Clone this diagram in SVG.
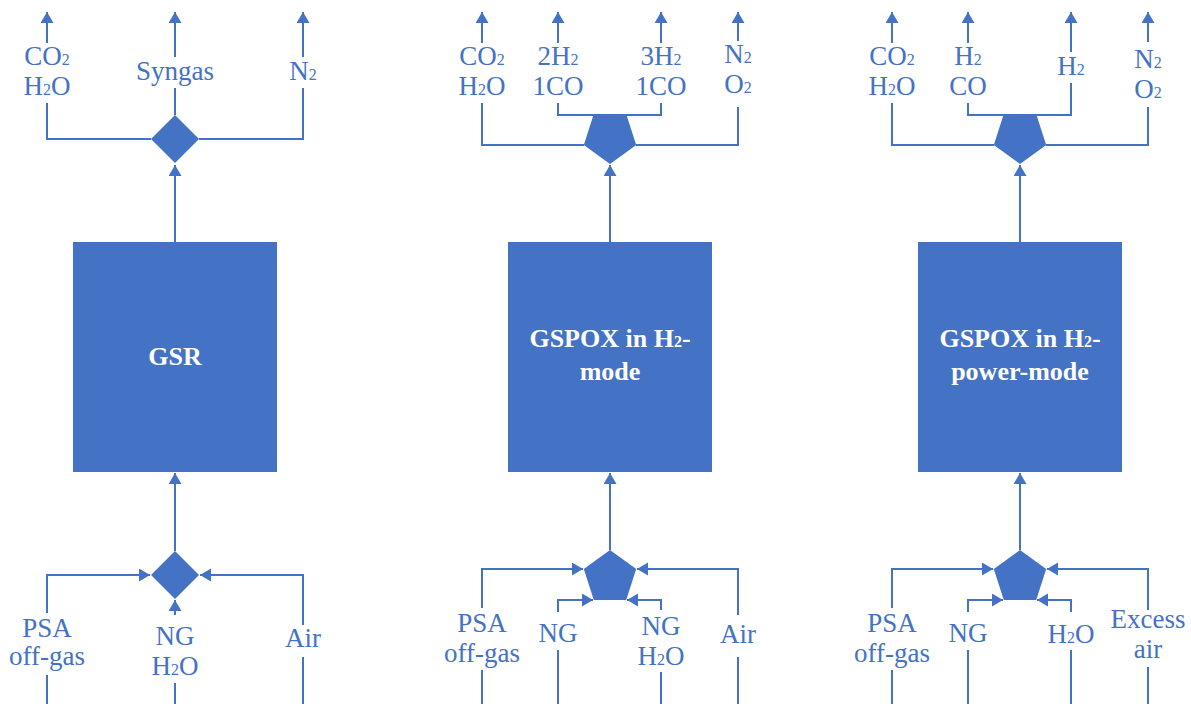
<svg xmlns="http://www.w3.org/2000/svg" width="1191" height="704" viewBox="0 0 1191 704">
<style>
.ln{fill:none;stroke:#4472C4;stroke-width:2}
.ar{fill:none;stroke:#4472C4;stroke-width:2;marker-end:url(#ah)}
.sh{fill:#4472C4;stroke:none}
.lb{font-family:"Liberation Serif","Times New Roman",serif;font-size:27px;fill:#4472C4;text-anchor:middle}
.bx{font-family:"Liberation Serif","Times New Roman",serif;font-size:26px;font-weight:bold;fill:#FFFFFF;text-anchor:middle}
.s{font-size:16px}
</style>
<defs>
<marker id="ah" markerUnits="userSpaceOnUse" markerWidth="12" markerHeight="14" refX="11" refY="6.5" orient="auto">
<path d="M0,0 L11,6.5 L0,13 Z" fill="#4472C4"/>
</marker>
</defs>
<rect width="1191" height="704" fill="#FFFFFF"/>

<g id="connectors">
<!-- panel 1 top -->
<path class="ar" d="M175,242 L175,165"/>
<path class="ln" d="M151,139 L47,139 L47,103"/>
<path class="ar" d="M47,43 L47,12"/>
<path class="ln" d="M175,115 L175,88"/>
<path class="ar" d="M175,57 L175,12"/>
<path class="ln" d="M199,139 L303,139 L303,88"/>
<path class="ar" d="M303,57 L303,12"/>
<!-- panel 1 bottom -->
<path class="ar" d="M175,551 L175,473"/>
<path class="ar" d="M47,613 L47,575 L150,575"/>
<path class="ln" d="M47,675 L47,704"/>
<path class="ar" d="M175,615 L175,600"/>
<path class="ln" d="M175,683 L175,704"/>
<path class="ar" d="M303,625 L303,575 L200,575"/>
<path class="ln" d="M303,657 L303,704"/>

<!-- panel 2 top -->
<path class="ar" d="M610,242 L610,165"/>
<path class="ln" d="M584,145 L482,145 L482,103"/>
<path class="ar" d="M482,43 L482,12"/>
<path class="ln" d="M594,115 L558,115 L558,103"/>
<path class="ar" d="M558,43 L558,12"/>
<path class="ln" d="M626,115 L661,115 L661,103"/>
<path class="ar" d="M661,43 L661,12"/>
<path class="ln" d="M636,145 L738,145 L738,107"/>
<path class="ar" d="M738,41 L738,12"/>
<!-- panel 2 bottom -->
<path class="ar" d="M610,550 L610,473"/>
<path class="ar" d="M482,608 L482,569 L583,569"/>
<path class="ln" d="M482,670 L482,704"/>
<path class="ar" d="M558,612 L558,600 L593,600"/>
<path class="ln" d="M558,650 L558,704"/>
<path class="ar" d="M661,610 L661,600 L627,600"/>
<path class="ln" d="M661,672 L661,704"/>
<path class="ar" d="M738,615 L738,569 L637,569"/>
<path class="ln" d="M738,657 L738,704"/>

<!-- panel 3 top -->
<path class="ar" d="M1020,242 L1020,165"/>
<path class="ln" d="M994,145 L892,145 L892,103"/>
<path class="ar" d="M892,43 L892,12"/>
<path class="ln" d="M1004,115 L968,115 L968,103"/>
<path class="ar" d="M968,43 L968,12"/>
<path class="ln" d="M1036,115 L1071,115 L1071,83"/>
<path class="ar" d="M1071,52 L1071,12"/>
<path class="ln" d="M1046,145 L1148,145 L1148,107"/>
<path class="ar" d="M1148,42 L1148,12"/>
<!-- panel 3 bottom -->
<path class="ar" d="M1020,550 L1020,473"/>
<path class="ar" d="M892,608 L892,569 L993,569"/>
<path class="ln" d="M892,670 L892,704"/>
<path class="ar" d="M968,612 L968,600 L1003,600"/>
<path class="ln" d="M968,650 L968,704"/>
<path class="ar" d="M1071,612 L1071,600 L1037,600"/>
<path class="ln" d="M1071,650 L1071,704"/>
<path class="ar" d="M1148,610 L1148,569 L1047,569"/>
<path class="ln" d="M1148,667 L1148,704"/>
</g>

<!-- Panel 1 -->
<g id="gsr">
<rect class="sh" x="73" y="242" width="204" height="230"/>
<text class="bx" x="175" y="365">GSR</text>
</g>
<g id="mix1-out">
<path class="sh" d="M175,115 L199,139 L175,163 L151,139 Z"/>
</g>
<g id="mix1-in">
<path class="sh" d="M175,551 L199,575 L175,599 L151,575 Z"/>
</g>
<g id="labels1">
<text class="lb" x="47" y="65">CO<tspan class="s">2</tspan></text>
<text class="lb" x="47" y="95">H<tspan class="s">2</tspan>O</text>
<text class="lb" x="175" y="80">Syngas</text>
<text class="lb" x="303" y="80">N<tspan class="s">2</tspan></text>
<text class="lb" x="47" y="637">PSA</text>
<text class="lb" x="47" y="665">off-gas</text>
<text class="lb" x="175" y="645">NG</text>
<text class="lb" x="175" y="675">H<tspan class="s">2</tspan>O</text>
<text class="lb" x="303" y="647">Air</text>
</g>

<!-- Panel 2 -->
<g id="gspox-h2">
<rect class="sh" x="508" y="242" width="204" height="230"/>
<text class="bx" x="610" y="347">GSPOX in H<tspan class="s">2</tspan>-</text>
<text class="bx" x="610" y="380">mode</text>
</g>
<g id="mix2-out">
<path class="sh" d="M593.8,114 L626.2,114 L636.2,145 L610,164 L583.8,145 Z"/>
</g>
<g id="mix2-in">
<path class="sh" d="M610,550 L636.2,569 L626.2,600 L593.8,600 L583.8,569 Z"/>
</g>
<g id="labels2">
<text class="lb" x="482" y="65">CO<tspan class="s">2</tspan></text>
<text class="lb" x="482" y="95">H<tspan class="s">2</tspan>O</text>
<text class="lb" x="558" y="65">2H<tspan class="s">2</tspan></text>
<text class="lb" x="558" y="95">1CO</text>
<text class="lb" x="661" y="65">3H<tspan class="s">2</tspan></text>
<text class="lb" x="661" y="95">1CO</text>
<text class="lb" x="738" y="63">N<tspan class="s">2</tspan></text>
<text class="lb" x="738" y="93">O<tspan class="s">2</tspan></text>
<text class="lb" x="482" y="632">PSA</text>
<text class="lb" x="482" y="662">off-gas</text>
<text class="lb" x="558" y="642">NG</text>
<text class="lb" x="661" y="635">NG</text>
<text class="lb" x="661" y="665">H<tspan class="s">2</tspan>O</text>
<text class="lb" x="738" y="643">Air</text>
</g>

<!-- Panel 3 -->
<g id="gspox-h2-power">
<rect class="sh" x="918" y="242" width="204" height="230"/>
<text class="bx" x="1020" y="347">GSPOX in H<tspan class="s">2</tspan>-</text>
<text class="bx" x="1020" y="380">power-mode</text>
</g>
<g id="mix3-out">
<path class="sh" d="M1003.8,114 L1036.2,114 L1046.2,145 L1020,164 L993.8,145 Z"/>
</g>
<g id="mix3-in">
<path class="sh" d="M1020,550 L1046.2,569 L1036.2,600 L1003.8,600 L993.8,569 Z"/>
</g>
<g id="labels3">
<text class="lb" x="892" y="65">CO<tspan class="s">2</tspan></text>
<text class="lb" x="892" y="95">H<tspan class="s">2</tspan>O</text>
<text class="lb" x="968" y="65">H<tspan class="s">2</tspan></text>
<text class="lb" x="968" y="95">CO</text>
<text class="lb" x="1071" y="75">H<tspan class="s">2</tspan></text>
<text class="lb" x="1148" y="68">N<tspan class="s">2</tspan></text>
<text class="lb" x="1148" y="98">O<tspan class="s">2</tspan></text>
<text class="lb" x="892" y="632">PSA</text>
<text class="lb" x="892" y="662">off-gas</text>
<text class="lb" x="968" y="642">NG</text>
<text class="lb" x="1071" y="643">H<tspan class="s">2</tspan>O</text>
<text class="lb" x="1148" y="628">Excess</text>
<text class="lb" x="1148" y="658">air</text>
</g>
</svg>
